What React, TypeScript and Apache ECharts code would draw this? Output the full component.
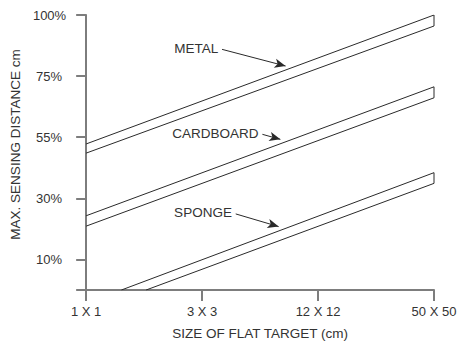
import React, { useEffect, useRef } from "react";
import * as echarts from "echarts";

// x positions: index of target size category (log-like schematic scale)
const xTickLabels = ["1 X 1", "3 X 3", "12 X 12", "50 X 50"];
// y positions: schematic half-step units; labelled ticks at odd units
const yTickValues = [1, 3, 5, 7, 9];
const yTickLabels = ["10%", "30%", "55%", "75%", "100%"];

// Bands: [x, y] at lower-line start/end and upper-line start/end
const metalLower = [[0, 4.48], [3, 8.64]];
const metalUpper = [[0, 4.78], [3, 9.0]];
const cardboardLower = [[0, 2.09], [3, 6.29]];
const cardboardUpper = [[0, 2.43], [3, 6.65]];
const spongeLower = [[0.517, 0], [3, 3.49]];
const spongeUpper = [[0.304, 0], [3, 3.84]];

// Annotation arrows: [from, to]
const metalArrow = [[1.172, 7.876], [1.72, 7.33]];
const cardboardArrow = [[1.52, 5.095], [1.675, 4.93]];
const spongeArrow = [[1.29, 2.49], [1.66, 2.075]];

const FONT = "'Liberation Sans', Arial, Helvetica, sans-serif";
const LINE = "#2a2a2a";
const AXIS = "#7d7d7d";
const TEXT = "#333333";

function band(name: string, lower: number[][], upper: number[][], arrow: number[][]) {
  return {
    name,
    type: "line",
    data: [lower[0], lower[1], upper[1], upper[0]],
    showSymbol: false,
    symbol: "none",
    lineStyle: { color: LINE, width: 1 },
    silent: true,
    markLine: {
      silent: true,
      symbol: ["none", "arrow"],
      symbolSize: [7, 11],
      lineStyle: { color: LINE, width: 1, type: "solid" },
      label: {
        show: true,
        position: "start",
        formatter: name,
        fontFamily: FONT,
        fontSize: 13.5,
        color: TEXT,
        distance: 4,
      },
      data: [[{ coord: arrow[0] }, { coord: arrow[1] }]],
    },
  };
}

export default function App() {
  const ref = useRef<HTMLDivElement>(null);
  useEffect(() => {
    if (!ref.current) return;
    const chart = echarts.init(ref.current, undefined, { renderer: "svg" });
    chart.setOption({
      animation: false,
      backgroundColor: "#ffffff",
      grid: { left: 83, right: 36, top: 15, bottom: 60, containLabel: false },
      xAxis: {
        type: "value",
        min: 0,
        max: 3,
        interval: 1,
        name: "SIZE OF FLAT TARGET (cm)",
        nameLocation: "middle",
        nameGap: 36,
        nameTextStyle: { fontFamily: FONT, fontSize: 13.5, color: TEXT },
        axisLine: { show: true, lineStyle: { color: AXIS, width: 2 } },
        axisTick: { show: true, length: 11, lineStyle: { color: AXIS, width: 2 } },
        axisLabel: {
          margin: 15,
          fontFamily: FONT,
          fontSize: 13,
          color: TEXT,
          formatter: (v: number) => xTickLabels[Math.round(v)] ?? "",
        },
        splitLine: { show: false },
      },
      yAxis: {
        type: "value",
        min: 0,
        max: 9,
        name: "MAX. SENSING DISTANCE cm",
        nameLocation: "middle",
        nameGap: 57,
        nameTextStyle: { fontFamily: FONT, fontSize: 13.5, color: TEXT, padding: [0, 0, 0, 16] },
        axisLine: { show: true, lineStyle: { color: AXIS, width: 2 } },
        axisTick: {
          show: true,
          length: 10,
          customValues: [0, ...yTickValues],
          lineStyle: { color: AXIS, width: 2 },
        },
        axisLabel: {
          margin: 20,
          customValues: yTickValues,
          fontFamily: FONT,
          fontSize: 13,
          color: TEXT,
          formatter: (v: number) => {
            const i = yTickValues.indexOf(Math.round(v));
            if (i < 0) return "";
            return i === yTickLabels.length - 1
              ? `{top|${yTickLabels[i]}}`
              : `{reg|${yTickLabels[i]}}`;
          },
          rich: {
            top: { fontFamily: FONT, fontSize: 13, color: TEXT },
            reg: { fontFamily: FONT, fontSize: 13, color: TEXT, padding: [0, 4, 0, 0] },
          },
        },
        splitLine: { show: false },
      },
      series: [
        band("METAL", metalLower, metalUpper, metalArrow),
        band("CARDBOARD", cardboardLower, cardboardUpper, cardboardArrow),
        band("SPONGE", spongeLower, spongeUpper, spongeArrow),
      ],
    });
    return () => chart.dispose();
  }, []);
  return (
    <div
      ref={ref}
      style={{ position: "fixed", left: 0, top: 0, width: 470, height: 350, background: "#fff" }}
    />
  );
}
